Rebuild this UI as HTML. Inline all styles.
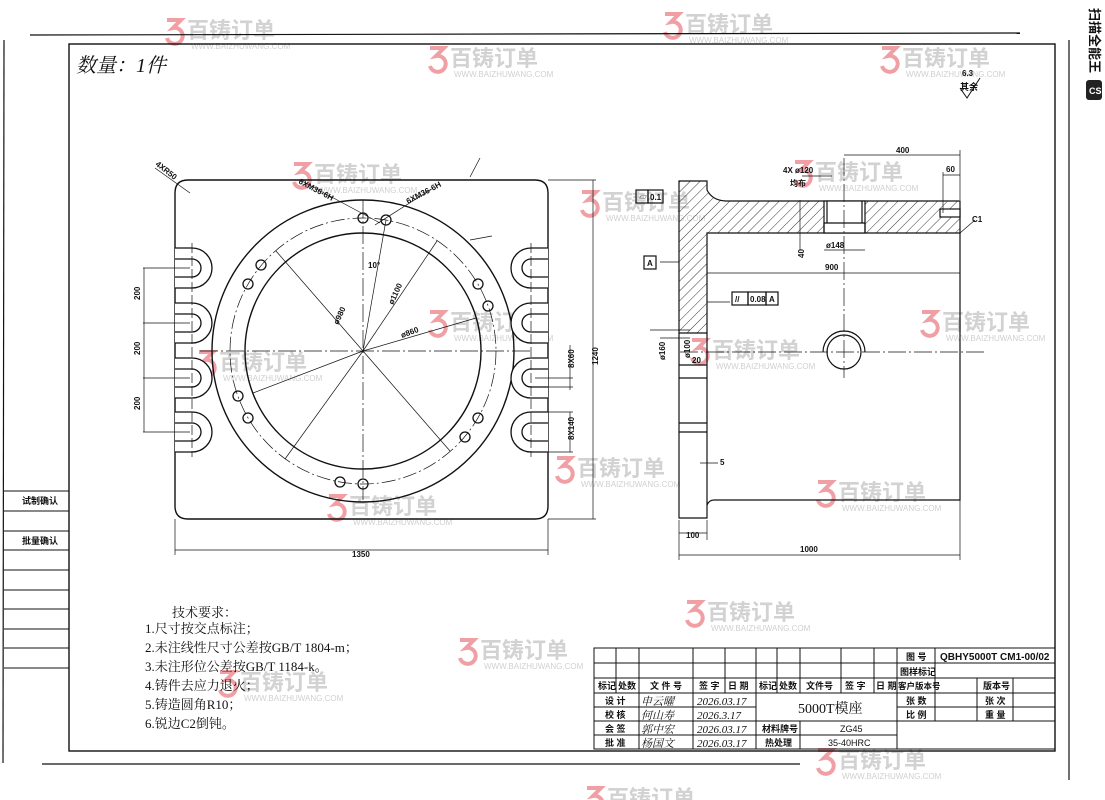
<!DOCTYPE html>
<html><head><meta charset="utf-8"><style>
html,body{margin:0;padding:0;background:#fff;}
svg{display:block;}
.t{font-family:"Liberation Serif","Noto Serif CJK SC",serif;fill:#111;}
.s{font-family:"Liberation Sans","Noto Sans CJK SC",sans-serif;fill:#111;font-weight:bold;}
.wm{font-family:"Liberation Sans","Noto Sans CJK SC",sans-serif;font-weight:bold;fill:#d2d2d2;font-size:22px;}
.wu{font-family:"Liberation Sans",sans-serif;fill:#d0d0d0;font-size:8px;}
.lg{fill:none;stroke:#f0a0a5;stroke-width:4;}
</style></head><body>
<svg width="1105" height="800" viewBox="0 0 1105 800" xmlns="http://www.w3.org/2000/svg">
<defs>
<pattern id="h" width="7" height="7" patternUnits="userSpaceOnUse" patternTransform="rotate(45)">
<line x1="0" y1="0" x2="0" y2="7" stroke="#222" stroke-width="0.9"/></pattern>
<g id="w">
<path class="lg" d="M2,2 h14 l-8,8 a8,8 0 1 1 -6,10"/>
<text class="wm" x="22" y="20">百铸订单</text>
<text class="wu" x="26" y="31">WWW.BAIZHUWANG.COM</text>
</g>
</defs>
<!-- watermarks (behind) -->
<use href="#w" x="165" y="18"/><use href="#w" x="663" y="12"/><use href="#w" x="428" y="46"/>
<use href="#w" x="880" y="46"/><use href="#w" x="292" y="162"/><use href="#w" x="793" y="160"/>
<use href="#w" x="580" y="190"/><use href="#w" x="428" y="310"/><use href="#w" x="920" y="310"/>
<use href="#w" x="197" y="350"/><use href="#w" x="690" y="338"/><use href="#w" x="555" y="456"/>
<use href="#w" x="816" y="480"/><use href="#w" x="327" y="494"/><use href="#w" x="685" y="600"/>
<use href="#w" x="458" y="638"/><use href="#w" x="218" y="670"/><use href="#w" x="816" y="748"/>
<use href="#w" x="585" y="786"/>
<g fill="none" stroke="#111" stroke-width="1.2">
<line x1="30" y1="35" x2="1020" y2="33"/>
<line x1="4" y1="40" x2="3" y2="763"/>
<line x1="42" y1="764" x2="800" y2="764"/>
<line x1="1069" y1="40" x2="1069" y2="780"/>
<rect x="69" y="44" width="986" height="707" stroke-width="1.4"/>
<g stroke-width="1">
<line x1="4" y1="491" x2="69" y2="491"/><line x1="4" y1="511" x2="69" y2="511"/>
<line x1="4" y1="531" x2="69" y2="531"/><line x1="4" y1="550" x2="69" y2="550"/>
<line x1="4" y1="570" x2="69" y2="570"/><line x1="4" y1="590" x2="69" y2="590"/>
<line x1="4" y1="609" x2="69" y2="609"/><line x1="4" y1="629" x2="69" y2="629"/>
<line x1="4" y1="648" x2="69" y2="648"/><line x1="4" y1="668" x2="69" y2="668"/>
</g>
<path d="M188,180 H535 Q548,180 548,193 V506 Q548,519 535,519 H188 Q175,519 175,506 V193 Q175,180 188,180 Z" stroke-width="1.4"/>
<circle cx="363" cy="351" r="151" stroke-width="1.4"/>
<circle cx="363" cy="351" r="118" stroke-width="1.4"/>
<circle cx="363" cy="351" r="133" stroke-dasharray="14 3 2 3" stroke-width="0.7"/>
<g fill="#fff" stroke-width="1.3">
<path d="M175,248 H192 A20,20 0 0 1 192,288 H175 M175,259 H192 A9,9 0 0 1 192,277 H175"/>
<path d="M175,303 H192 A20,20 0 0 1 192,343 H175 M175,314 H192 A9,9 0 0 1 192,332 H175"/>
<path d="M175,358 H192 A20,20 0 0 1 192,398 H175 M175,369 H192 A9,9 0 0 1 192,387 H175"/>
<path d="M175,412 H192 A20,20 0 0 1 192,452 H175 M175,423 H192 A9,9 0 0 1 192,441 H175"/>
<path d="M548,248 H531 A20,20 0 0 0 531,288 H548 M548,259 H531 A9,9 0 0 0 531,277 H548"/>
<path d="M548,303 H531 A20,20 0 0 0 531,343 H548 M548,314 H531 A9,9 0 0 0 531,332 H548"/>
<path d="M548,358 H531 A20,20 0 0 0 531,398 H548 M548,369 H531 A9,9 0 0 0 531,387 H548"/>
<path d="M548,412 H531 A20,20 0 0 0 531,452 H548 M548,423 H531 A9,9 0 0 0 531,441 H548"/>
</g>
<g stroke-width="0.7">
<line x1="200" y1="351" x2="530" y2="351" stroke-dasharray="18 3 2 3"/>
<line x1="363" y1="200" x2="363" y2="500" stroke-dasharray="18 3 2 3"/>
<line x1="363" y1="351" x2="276" y2="251"/><line x1="363" y1="351" x2="437" y2="241"/>
<line x1="363" y1="351" x2="285" y2="459"/><line x1="363" y1="351" x2="450" y2="451"/>
<line x1="363" y1="351" x2="253" y2="393"/><line x1="363" y1="351" x2="476" y2="318"/>
<line x1="363" y1="351" x2="386" y2="220"/>
<line x1="192" y1="243" x2="192" y2="457" stroke-dasharray="10 3"/>
<line x1="531" y1="243" x2="531" y2="457" stroke-dasharray="10 3"/>
</g>
<g stroke-width="1.3">
<circle cx="363" cy="218" r="5"/><circle cx="386" cy="220" r="5"/>
<circle cx="478" cy="284" r="5"/><circle cx="488" cy="306" r="5"/>
<circle cx="478" cy="418" r="5"/><circle cx="465" cy="437" r="5"/>
<circle cx="363" cy="484" r="5"/><circle cx="340" cy="482" r="5"/>
<circle cx="248" cy="418" r="5"/><circle cx="238" cy="396" r="5"/>
<circle cx="248" cy="284" r="5"/><circle cx="261" cy="265" r="5"/>
</g>
<g stroke-width="0.7">
<line x1="143" y1="268" x2="190" y2="268"/><line x1="143" y1="323" x2="190" y2="323"/>
<line x1="143" y1="378" x2="190" y2="378"/><line x1="143" y1="432" x2="190" y2="432"/>
<line x1="144" y1="268" x2="144" y2="432"/>
<line x1="175" y1="519" x2="175" y2="555"/><line x1="548" y1="519" x2="548" y2="555"/>
<line x1="175" y1="550" x2="548" y2="550"/>
<line x1="548" y1="180" x2="596" y2="180"/><line x1="548" y1="519" x2="596" y2="519"/>
<line x1="593" y1="180" x2="593" y2="519"/>
<line x1="535" y1="378" x2="573" y2="378"/><line x1="535" y1="387" x2="573" y2="387"/>
<line x1="570" y1="345" x2="570" y2="390"/>
<line x1="548" y1="412" x2="573" y2="412"/><line x1="548" y1="452" x2="573" y2="452"/>
<line x1="570" y1="412" x2="570" y2="452"/>
<line x1="155" y1="168" x2="190" y2="193"/>
<line x1="300" y1="180" x2="380" y2="223"/><line x1="375" y1="225" x2="430" y2="190"/>
<line x1="470" y1="177" x2="480" y2="158"/><line x1="470" y1="240" x2="492" y2="236"/>
</g>
<path d="M679,181 H707 V190 Q712,200 725,201 H960 V233 H707 V333 H679 Z" fill="url(#h)"/>
<rect x="824" y="201" width="41" height="32" fill="#fff"/>
<path d="M827,201 V223 H824 V233 M862,201 V223 H865 V233 M824,223 H865"/>
<path d="M679,333 V518 H707 V505 Q709,500 714,500 H960 V233"/>
<line x1="707" y1="333" x2="707" y2="505"/>
<line x1="679" y1="365" x2="707" y2="365"/><line x1="679" y1="378" x2="707" y2="378"/>
<line x1="679" y1="423" x2="707" y2="423"/><line x1="679" y1="432" x2="707" y2="432"/>
<rect x="940" y="209" width="20" height="8" fill="#fff"/>
<circle cx="844" cy="352" r="17"/>
<path d="M823,352 A21,21 0 0 1 865,352"/>
<g stroke-width="0.7">
<line x1="680" y1="352" x2="985" y2="352" stroke-dasharray="18 3 2 3"/>
<line x1="844" y1="158" x2="844" y2="378" stroke-dasharray="18 3 2 3"/>
<line x1="844" y1="155" x2="960" y2="155"/><line x1="960" y1="150" x2="960" y2="200"/>
<line x1="943" y1="175" x2="960" y2="175"/><line x1="943" y1="172" x2="943" y2="213"/>
<line x1="707" y1="273" x2="960" y2="273"/>
<line x1="679" y1="520" x2="679" y2="560"/><line x1="707" y1="520" x2="707" y2="540"/>
<line x1="960" y1="500" x2="960" y2="560"/>
<line x1="679" y1="533" x2="707" y2="533"/><line x1="679" y1="555" x2="960" y2="555"/>
<line x1="802" y1="176" x2="832" y2="176"/>
<line x1="800" y1="250" x2="800" y2="200"/>
<line x1="824" y1="250" x2="865" y2="250"/>
<line x1="660" y1="262" x2="679" y2="262"/>
<line x1="707" y1="302" x2="730" y2="302"/>
<line x1="650" y1="330" x2="690" y2="330"/><line x1="660" y1="338" x2="690" y2="338"/>
<line x1="960" y1="233" x2="975" y2="220"/>
<line x1="700" y1="463" x2="718" y2="463"/>
</g>
<rect x="636" y="190" width="12" height="13"/><rect x="648" y="190" width="15" height="13"/>
<rect x="644" y="256" width="12" height="13"/>
<rect x="732" y="292" width="16" height="13"/><rect x="748" y="292" width="18" height="13"/><rect x="766" y="292" width="12" height="13"/>
<g stroke-width="1">
<rect x="594" y="648" width="461" height="101"/>
<line x1="594" y1="663" x2="1055" y2="663"/><line x1="594" y1="678" x2="1055" y2="678"/>
<line x1="594" y1="693" x2="1055" y2="693"/><line x1="897" y1="707" x2="1055" y2="707"/>
<line x1="897" y1="721" x2="1055" y2="721"/>
<line x1="594" y1="707" x2="756" y2="707"/><line x1="594" y1="721" x2="897" y2="721"/>
<line x1="594" y1="735" x2="897" y2="735"/>
<line x1="616" y1="648" x2="616" y2="693"/><line x1="639" y1="648" x2="639" y2="749"/>
<line x1="693" y1="648" x2="693" y2="749"/><line x1="725" y1="648" x2="725" y2="693"/>
<line x1="756" y1="648" x2="756" y2="749"/><line x1="777" y1="648" x2="777" y2="693"/>
<line x1="800" y1="648" x2="800" y2="693"/><line x1="800" y1="721" x2="800" y2="749"/>
<line x1="841" y1="648" x2="841" y2="693"/><line x1="874" y1="648" x2="874" y2="693"/>
<line x1="897" y1="648" x2="897" y2="749"/><line x1="935" y1="648" x2="935" y2="721"/>
<line x1="977" y1="678" x2="977" y2="721"/><line x1="1013" y1="678" x2="1013" y2="721"/>
</g>
</g>
<g class="s" font-size="9">
<text x="22" y="504">试制确认</text><text x="22" y="544">批量确认</text>
<text x="598" y="689">标记</text><text x="618" y="689">处数</text><text x="650" y="689">文 件 号</text>
<text x="699" y="689">签 字</text><text x="728" y="689">日 期</text>
<text x="759" y="689">标记</text><text x="779" y="689">处数</text><text x="806" y="689">文件号</text>
<text x="845" y="689">签 字</text><text x="876" y="689">日 期</text>
<text x="898" y="689" font-size="8.5">客户版本号</text><text x="983" y="689">版本号</text>
<text x="906" y="660">图 号</text><text x="940" y="660" font-size="10">QBHY5000T CM1-00/02</text>
<text x="900" y="675">图样标记</text>
<text x="906" y="704">张 数</text><text x="985" y="704">张 次</text>
<text x="906" y="718">比 例</text><text x="985" y="718">重 量</text>
<text x="605" y="704">设 计</text><text x="605" y="718">校 核</text><text x="605" y="732">会 签</text><text x="605" y="746">批 准</text>
<text x="762" y="732">材料牌号</text><text x="765" y="746">热处理</text>
<text x="840" y="732" font-weight="normal">ZG45</text><text x="828" y="746" font-weight="normal">35-40HRC</text>
<text x="960" y="90">其余</text>
</g>
<text class="t" x="798" y="713" font-size="14">5000T模座</text>
<g class="t" font-size="11" font-style="italic" fill="#222">
<text x="641" y="705">申云曜</text><text x="697" y="705">2026.03.17</text>
<text x="641" y="719">何山寿</text><text x="697" y="719">2026.3.17</text>
<text x="641" y="733">郭中宏</text><text x="697" y="733">2026.03.17</text>
<text x="641" y="747">杨国文</text><text x="697" y="747">2026.03.17</text>
</g>
<text class="t" x="76" y="72" font-size="20" font-style="italic">数量：1件</text>
<g class="t" font-size="13">
<text x="172" y="617">技术要求：</text>
<text x="145" y="633">1.尺寸按交点标注；</text>
<text x="145" y="652">2.未注线性尺寸公差按GB/T 1804-m；</text>
<text x="145" y="671">3.未注形位公差按GB/T 1184-k。</text>
<text x="145" y="690">4.铸件去应力退火；</text>
<text x="145" y="709">5.铸造圆角R10；</text>
<text x="145" y="728">6.锐边C2倒钝。</text>
</g>
<g class="s" font-size="8" font-weight="normal">
<text x="352" y="557">1350</text><text x="800" y="552">1000</text><text x="686" y="538">100</text>
<text x="825" y="270">900</text><text x="896" y="153">400</text><text x="946" y="172">60</text>
<text x="972" y="222">C1</text><text x="720" y="465">5</text>
<text x="692" y="363">20</text><text x="368" y="268">10°</text>
<text x="783" y="173">4X ø120</text><text x="790" y="186">均布</text>
<text x="826" y="248">ø148</text><text x="639" y="200">▱</text><text x="650" y="200">0.1</text>
<text x="647" y="266">A</text><text x="735" y="302">//</text><text x="750" y="302">0.08</text><text x="769" y="302">A</text>
<text x="962" y="76">6.3</text>
<text transform="translate(140,300) rotate(-90)">200</text>
<text transform="translate(140,355) rotate(-90)">200</text>
<text transform="translate(140,410) rotate(-90)">200</text>
<text transform="translate(598,365) rotate(-90)">1240</text>
<text transform="translate(574,368) rotate(-90)">8X60</text>
<text transform="translate(574,440) rotate(-90)">8X140</text>
<text transform="translate(338,325) rotate(-65)">ø980</text>
<text transform="translate(393,305) rotate(-65)">ø1100</text>
<text transform="translate(402,338) rotate(-20)">ø860</text>
<text transform="translate(298,183) rotate(28)">6XM36-6H</text>
<text transform="translate(408,204) rotate(-28)">6XM36-6H</text>
<text transform="translate(155,165) rotate(38)">4XR50</text>
<text transform="translate(665,360) rotate(-90)">ø160</text>
<text transform="translate(690,358) rotate(-90)">ø100</text>
<text transform="translate(804,258) rotate(-90)">40</text>
</g>
<path d="M960,88 l7,10 l13,-20" fill="none" stroke="#111"/>
<rect x="1086" y="80" width="16" height="20" rx="3" fill="#222"/>
<text x="1089" y="94" font-family="Liberation Sans" font-size="9" font-weight="bold" fill="#fff">CS</text>
<text class="s" font-size="13" transform="translate(1090,8) rotate(90)">扫描全能王</text>
</svg>
</body></html>
